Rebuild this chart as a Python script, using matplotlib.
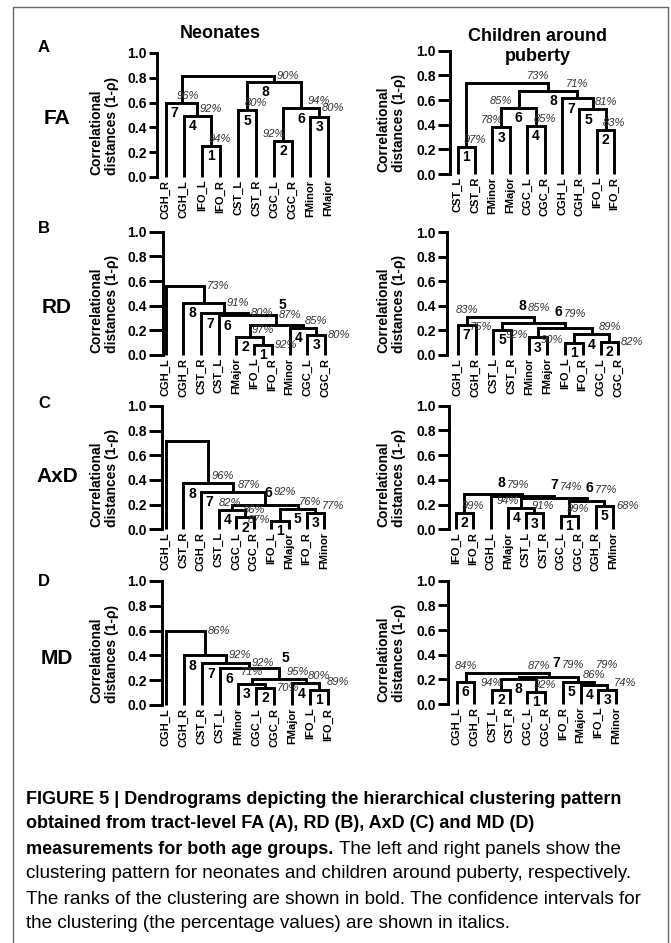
import matplotlib
matplotlib.use('Agg')
import matplotlib.pyplot as plt
from matplotlib import font_manager
from matplotlib.lines import Line2D
from matplotlib.ticker import FormatStrFormatter

# ---------------- data ----------------
# merges: (rank, left child, right child, distance, confidence); 'top' = final merge

fa_neo_leaves = ['CGH_R', 'CGH_L', 'IFO_L', 'IFO_R', 'CST_L', 'CST_R', 'CGC_L', 'CGC_R', 'FMinor', 'FMajor']
fa_neo_merges = [
    ('1', 'IFO_L', 'IFO_R', 0.251, '94%'),
    ('4', 'CGH_L', '1', 0.495, '92%'),
    ('7', 'CGH_R', '4', 0.600, '96%'),
    ('5', 'CST_L', 'CST_R', 0.540, '80%'),
    ('2', 'CGC_L', 'CGC_R', 0.292, '92%'),
    ('3', 'FMinor', 'FMajor', 0.486, '94%'),
    ('6', '2', '3', 0.554, '80%'),
    ('8', '5', '6', 0.770, ''),
    ('top', '7', '8', 0.816, '90%'),
]

fa_pub_leaves = ['CST_L', 'CST_R', 'FMinor', 'FMajor', 'CGC_L', 'CGC_R', 'CGH_L', 'CGH_R', 'IFO_L', 'IFO_R']
fa_pub_merges = [
    ('1', 'CST_L', 'CST_R', 0.222, '97%'),
    ('3', 'FMinor', 'FMajor', 0.378, '78%'),
    ('4', 'CGC_L', 'CGC_R', 0.392, '85%'),
    ('6', '3', '4', 0.538, '85%'),
    ('2', 'IFO_L', 'IFO_R', 0.357, '83%'),
    ('5', 'CGH_R', '2', 0.524, '81%'),
    ('7', 'CGH_L', '5', 0.614, ''),
    ('8', '6', '7', 0.676, '71%'),
    ('top', '1', '8', 0.735, '73%'),
]

rd_neo_leaves = ['CGH_L', 'CGH_R', 'CST_R', 'CST_L', 'FMajor', 'IFO_L', 'IFO_R', 'FMinor', 'CGC_L', 'CGC_R']
rd_neo_merges = [
    ('1', 'IFO_L', 'IFO_R', 0.081, '92%'),
    ('2', 'FMajor', '1', 0.149, '97%'),
    ('3', 'CGC_L', 'CGC_R', 0.162, '80%'),
    ('4', 'FMinor', '3', 0.220, '85%'),
    ('5', '2', '4', 0.243, ''),
    ('6', 'CST_L', '5', 0.324, '87%'),
    ('7', 'CST_R', '6', 0.338, '80%'),
    ('8', 'CGH_R', '7', 0.424, '91%'),
    ('top', 'CGH_L', '8', 0.559, '73%'),
]

rd_pub_leaves = ['CGH_L', 'CGH_R', 'CST_L', 'CST_R', 'FMinor', 'FMajor', 'IFO_L', 'IFO_R', 'CGC_L', 'CGC_R']
rd_pub_merges = [
    ('7', 'CGH_L', 'CGH_R', 0.245, '83%'),
    ('5', 'CST_L', 'CST_R', 0.204, '75%'),
    ('3', 'FMinor', 'FMajor', 0.144, '92%'),
    ('1', 'IFO_L', 'IFO_R', 0.100, '90%'),
    ('2', 'CGC_L', 'CGC_R', 0.109, '82%'),
    ('4', '1', '2', 0.168, '89%'),
    ('6', '3', '4', 0.223, '79%'),
    ('8', '5', '6', 0.264, '85%'),
    ('top', '7', '8', 0.312, ''),
]

axd_neo_leaves = ['CGH_L', 'CST_R', 'CGH_R', 'CST_L', 'CGC_L', 'CGC_R', 'IFO_L', 'FMajor', 'IFO_R', 'FMinor']
axd_neo_merges = [
    ('1', 'IFO_L', 'FMajor', 0.070, '87%'),
    ('2', 'CGC_L', 'CGC_R', 0.097, '86%'),
    ('3', 'IFO_R', 'FMinor', 0.135, '77%'),
    ('4', 'CST_L', '2', 0.157, '82%'),
    ('5', '1', '3', 0.165, '76%'),
    ('6', '4', '5', 0.197, '92%'),
    ('7', 'CGH_R', '6', 0.305, '87%'),
    ('8', 'CST_R', '7', 0.373, '96%'),
    ('top', 'CGH_L', '8', 0.716, ''),
]

axd_pub_leaves = ['IFO_L', 'IFO_R', 'CGH_L', 'FMajor', 'CST_L', 'CST_R', 'CGC_L', 'CGC_R', 'CGH_R', 'FMinor']
axd_pub_merges = [
    ('2', 'IFO_L', 'IFO_R', 0.135, '99%'),
    ('3', 'CST_L', 'CST_R', 0.128, '91%'),
    ('4', 'FMajor', '3', 0.175, '94%'),
    ('1', 'CGC_L', 'CGC_R', 0.108, '99%'),
    ('5', 'CGH_R', 'FMinor', 0.190, '68%'),
    ('6', '1', '5', 0.230, '77%'),
    ('7', '4', '6', 0.250, '74%'),
    ('8', 'CGH_L', '7', 0.270, '79%'),
    ('top', '2', '8', 0.286, ''),
]

md_neo_leaves = ['CGH_L', 'CGH_R', 'CST_R', 'CST_L', 'FMinor', 'CGC_L', 'CGC_R', 'FMajor', 'IFO_L', 'IFO_R']
md_neo_merges = [
    ('2', 'CGC_L', 'CGC_R', 0.138, '70%'),
    ('3', 'FMinor', '2', 0.170, '71%'),
    ('1', 'IFO_L', 'IFO_R', 0.125, '89%'),
    ('4', 'FMajor', '1', 0.175, '80%'),
    ('5', '3', '4', 0.210, '95%'),
    ('6', 'CST_L', '5', 0.295, ''),
    ('7', 'CST_R', '6', 0.335, '92%'),
    ('8', 'CGH_R', '7', 0.402, '92%'),
    ('top', 'CGH_L', '8', 0.598, '86%'),
]

md_pub_leaves = ['CGH_L', 'CGH_R', 'CST_L', 'CST_R', 'CGC_L', 'CGC_R', 'IFO_R', 'FMajor', 'IFO_L', 'FMinor']
md_pub_merges = [
    ('6', 'CGH_L', 'CGH_R', 0.181, '84%'),
    ('2', 'CST_L', 'CST_R', 0.114, '94%'),
    ('1', 'CGC_L', 'CGC_R', 0.100, '92%'),
    ('8', '2', '1', 0.203, ''),
    ('3', 'IFO_L', 'FMinor', 0.114, '74%'),
    ('4', 'FMajor', '3', 0.154, '79%'),
    ('5', 'IFO_R', '4', 0.181, '86%'),
    ('7', '8', '5', 0.222, '79%'),
    ('top', '6', '7', 0.249, '87%'),
]

measures = ['FA', 'RD', 'AxD', 'MD']
panel_letters = ['A', 'B', 'C', 'D']
groups = ['Neonates', 'Children around\npuberty']

# ---------------- label placement (style only) ----------------
# confidence label: ar / ae / as = above right end, centred / ending / starting there,
# al / als = above left end, centred / starting there, r / l = beside right / left end,
# a = above the parent bar, ra = right of the rank number
# a tuple adds (dy, dx) nudges in points
pct_place = {
    'fa_neo': {'1': 'ar', '4': 'ar', '7': 'ae', '5': 'ar', '2': 'al', '3': 'a', '6': 'r', 'top': 'r'},
    'fa_pub': {'1': 'ar', '3': 'al', '4': 'ar', '6': 'al', '2': 'ar', '5': 'ar', '8': 'ar', 'top': 'ae'},
    'rd_neo': {'1': 'r', '2': 'ar', '3': 'r', '4': 'ar', '6': 'r', '7': 'r', '8': 'r', 'top': 'r'},
    'rd_pub': {'7': 'a', '5': 'l', '3': 'l', '1': 'l', '2': 'r', '4': 'ar', '6': 'ra', '8': 'ra'},
    'axd_neo': {'1': ('l', -1.5, 0), '2': 'ar', '3': 'as', '4': 'als', '5': ('ar', 0, -4),
                '6': ('ra', 2, 0), '7': ('ae', 0, -4), '8': 'ae'},
    'axd_pub': {'2': 'ar', '3': 'ar', '4': 'al', '1': 'ar', '5': 'r', '6': 'ra', '7': 'ra', '8': 'ra'},
    'md_neo': {'2': 'r', '3': 'a', '1': 'as', '4': 'ar', '5': ('ar', 0, -6), '7': 'r', '8': 'r',
               'top': 'r'},
    'md_pub': {'6': 'a', '2': 'al', '1': 'ar', '3': 'as', '4': ('ar', 9, 0), '5': 'ar', '7': 'ra',
               'top': 'ae'},
}
# rank number: b = below bar (default), a = above own bar, A = above parent bar
rank_place = {
    'rd_neo': {'5': 'A'},
    'rd_pub': {'6': 'A', '8': 'A'},
    'axd_neo': {'6': 'a'},
    'axd_pub': {'6': 'A', '7': 'A', '8': 'A'},
    'md_neo': {'5': 'A'},
    'md_pub': {'7': 'A'},
}

# pixel layout: spine x, y of 0.0, y of 1.0, first leaf x, leaf spacing, tick label right edge
layout = {
    'fa_neo': (157, 177, 53, 165.7, 18.07, 147),
    'fa_pub': (450, 174, 50.7, 457.7, 17.4, 436),
    'rd_neo': (163, 355, 231.7, 165.7, 17.7, 147),
    'rd_pub': (447.3, 355, 232.3, 457.7, 17.85, 436),
    'axd_neo': (161.7, 529.3, 406, 165.7, 17.6, 147),
    'axd_pub': (449, 529.3, 405.7, 455.7, 17.5, 436),
    'md_neo': (161.7, 705, 581, 165.7, 18.07, 147),
    'md_pub': (448.3, 704, 580.7, 456.7, 17.7, 436),
}

panels = [
    ('fa_neo', fa_neo_leaves, fa_neo_merges), ('fa_pub', fa_pub_leaves, fa_pub_merges),
    ('rd_neo', rd_neo_leaves, rd_neo_merges), ('rd_pub', rd_pub_leaves, rd_pub_merges),
    ('axd_neo', axd_neo_leaves, axd_neo_merges), ('axd_pub', axd_pub_leaves, axd_pub_merges),
    ('md_neo', md_neo_leaves, md_neo_merges), ('md_pub', md_pub_leaves, md_pub_merges),
]

W_PX, H_PX = 671, 943
LW = 2.1
PCT_COLOR = '#333333'

plt.rcParams['font.family'] = ['Liberation Sans', 'DejaVu Sans']
plt.rcParams['font.weight'] = 'bold'

fig = plt.figure(figsize=(W_PX / 100, H_PX / 100), dpi=100)


def fx(x):
    return x / W_PX


def fy(y):
    return 1 - y / H_PX


def draw_dendro(ax, leaves, merges, pct_pos, rank_pos):
    xpos = {name: i for i, name in enumerate(leaves)}
    height = {name: 0.0 for name in leaves}
    span = {name: (i, i) for i, name in enumerate(leaves)}
    ends, parent_h = {}, {}
    for key, a, b, h, pct in merges:
        ax.plot([xpos[a], xpos[a], xpos[b], xpos[b]], [height[a], h, h, height[b]],
                color='black', lw=LW, solid_joinstyle='miter', solid_capstyle='butt',
                clip_on=False)
        ends[key] = (xpos[a], xpos[b])
        xpos[key] = (xpos[a] + xpos[b]) / 2
        height[key] = h
        span[key] = (span[a][0], span[b][1])
        parent_h[a] = h
        parent_h[b] = h

    for key, a, b, h, pct in merges:
        split = span[a][1] + 0.5
        # rank number
        mode = rank_pos.get(key, 'b')
        if mode == 'b':
            r_xy, r_off, r_va = (split, h), (0, -2.5), 'top'
        elif mode == 'a':
            r_xy, r_off, r_va = (split, h), (4, 3.5), 'bottom'
        else:
            r_xy, r_off, r_va = (split, parent_h.get(key, h)), (1.5, 2.5), 'bottom'
        if key != 'top':
            ax.annotate(key, r_xy, xytext=r_off, textcoords='offset points',
                        ha='center', va=r_va, fontsize=10, fontweight='bold',
                        annotation_clip=False)
        # confidence value
        if not pct:
            continue
        place = pct_pos.get(key, 'r')
        dy, dx = 0, 0
        if isinstance(place, tuple):
            place, dy, dx = place
        xl, xr = ends[key]
        if place == 'ar':
            xy, off, ha, va = (xr, h), (0, 1.5), 'center', 'bottom'
        elif place == 'ae':
            xy, off, ha, va = (xr, h), (1, 1.5), 'right', 'bottom'
        elif place == 'as':
            xy, off, ha, va = (xr, h), (-1.5, 1.5), 'left', 'bottom'
        elif place == 'al':
            xy, off, ha, va = (xl, h), (0, 1.5), 'center', 'bottom'
        elif place == 'als':
            xy, off, ha, va = (xl, h), (0, 1.5), 'left', 'bottom'
        elif place == 'r':
            xy, off, ha, va = (xr, h), (2, 0), 'left', 'center'
        elif place == 'l':
            xy, off, ha, va = (xl, h), (-1, 2), 'right', 'center'
        elif place == 'a':
            xy, off, ha, va = (xpos[key], parent_h.get(key, h)), (0, 1.5), 'center', 'bottom'
        else:  # right of the rank number
            xy, off, ha, va = r_xy, (r_off[0] + 4, r_off[1]), 'left', r_va
        ax.annotate(pct, xy, xytext=(off[0] + dx, off[1] + dy), textcoords='offset points',
                    ha=ha, va=va, fontsize=8, fontstyle='italic', fontweight='normal',
                    color=PCT_COLOR, annotation_clip=False)


for name, leaves, merges in panels:
    spine, y0, y1, first, sp, lab_right = layout[name]
    xmin = -(first - spine) / sp
    xmax = 9.6
    ax = fig.add_axes([fx(spine), fy(y0), (xmax - xmin) * sp / W_PX, (y0 - y1) / H_PX])
    ax.set_xlim(xmin, xmax)
    ax.set_ylim(0, 1)
    for side in ['top', 'right', 'bottom']:
        ax.spines[side].set_visible(False)
    ax.spines['left'].set_linewidth(LW)
    ax.patch.set_alpha(0)
    ax.set_yticks([0, 0.2, 0.4, 0.6, 0.8, 1.0])
    ax.yaxis.set_major_formatter(FormatStrFormatter('%.1f'))
    tick_len = (spine - lab_right - 2) * 0.72
    ax.tick_params(axis='y', direction='out', length=tick_len, width=LW, pad=1.5, labelsize=10)
    ax.set_xticks(range(len(leaves)))
    ax.set_xticklabels(leaves, rotation=90, fontsize=8, fontweight='bold')
    ax.tick_params(axis='x', length=0, pad=2)
    draw_dendro(ax, leaves, merges, pct_place[name], rank_place.get(name, {}))

    # axis title
    lab_x = 104 if spine < 300 else 391
    fig.text(fx(lab_x), fy(y0 - 2), 'Correlational\ndistances (1-\u03c1)', rotation=90,
             ha='center', va='bottom', multialignment='left', fontsize=10, fontweight='bold')

# column titles, row labels and panel letters
fig.text(fx(220), fy(33), groups[0], ha='center', va='center', fontsize=13, fontweight='bold')
fig.text(fx(538), fy(46.5), groups[1], ha='center', va='center', fontsize=13,
         fontweight='bold', linespacing=1.25)
row_y = [118, 308, 477, 658]
letter_y = [48, 229, 404, 582]
for m, yy, letter, ly in zip(measures, row_y, panel_letters, letter_y):
    fig.text(fx(57), fy(yy), m, ha='center', va='center', fontsize=15, fontweight='bold')
    fig.text(fx(44), fy(ly), letter, ha='center', va='center', fontsize=12, fontweight='bold')

# caption
names = {f.name for f in font_manager.fontManager.ttflist}
cap_font = 'Liberation Sans Narrow' if 'Liberation Sans Narrow' in names else 'Liberation Sans'
cap_bold = ['FIGURE 5 | Dendrograms depicting the hierarchical clustering pattern',
            'obtained from tract-level FA (A), RD (B), AxD (C) and MD (D)',
            'measurements for both age groups.']
cap_reg = ['The left and right panels show the',
           'clustering pattern for neonates and children around puberty, respectively.',
           'The ranks of the clustering are shown in bold. The confidence intervals for',
           'the clustering (the percentage values) are shown in italics.']

renderer = fig.canvas.get_renderer()


def text_width(s, size, weight):
    t = fig.text(0, 0, s, fontsize=size, fontweight=weight, family=cap_font)
    w = t.get_window_extent(renderer).width
    t.remove()
    return w


size_b = 10 * 596 / text_width(cap_bold[0], 10, 'bold')
size_r = 10 * 611 / text_width(cap_reg[1], 10, 'normal')
cap_left = 26
line_y = [799 + 25 * i for i in range(6)]
for i, s in enumerate(cap_bold):
    fig.text(fx(cap_left), fy(line_y[i]), s, ha='left', va='center', fontsize=size_b,
             fontweight='bold', family=cap_font)
w3 = text_width(cap_bold[2], size_b, 'bold') + size_r * 100 / 72 * 0.28
fig.text(fx(cap_left + w3), fy(line_y[2]), cap_reg[0], ha='left', va='center',
         fontsize=size_r, fontweight='normal', family=cap_font)
for i, s in enumerate(cap_reg[1:]):
    fig.text(fx(cap_left), fy(line_y[3 + i]), s, ha='left', va='center', fontsize=size_r,
             fontweight='normal', family=cap_font)

# outer frame (open at the bottom edge of the image)
frame = Line2D([fx(12.7), fx(12.7), fx(668), fx(668)], [fy(950), fy(7.3), fy(7.3), fy(950)],
               transform=fig.transFigure, color='#666666', lw=1.0, clip_on=False)
fig.add_artist(frame)

fig.savefig('out.png', dpi=100)
